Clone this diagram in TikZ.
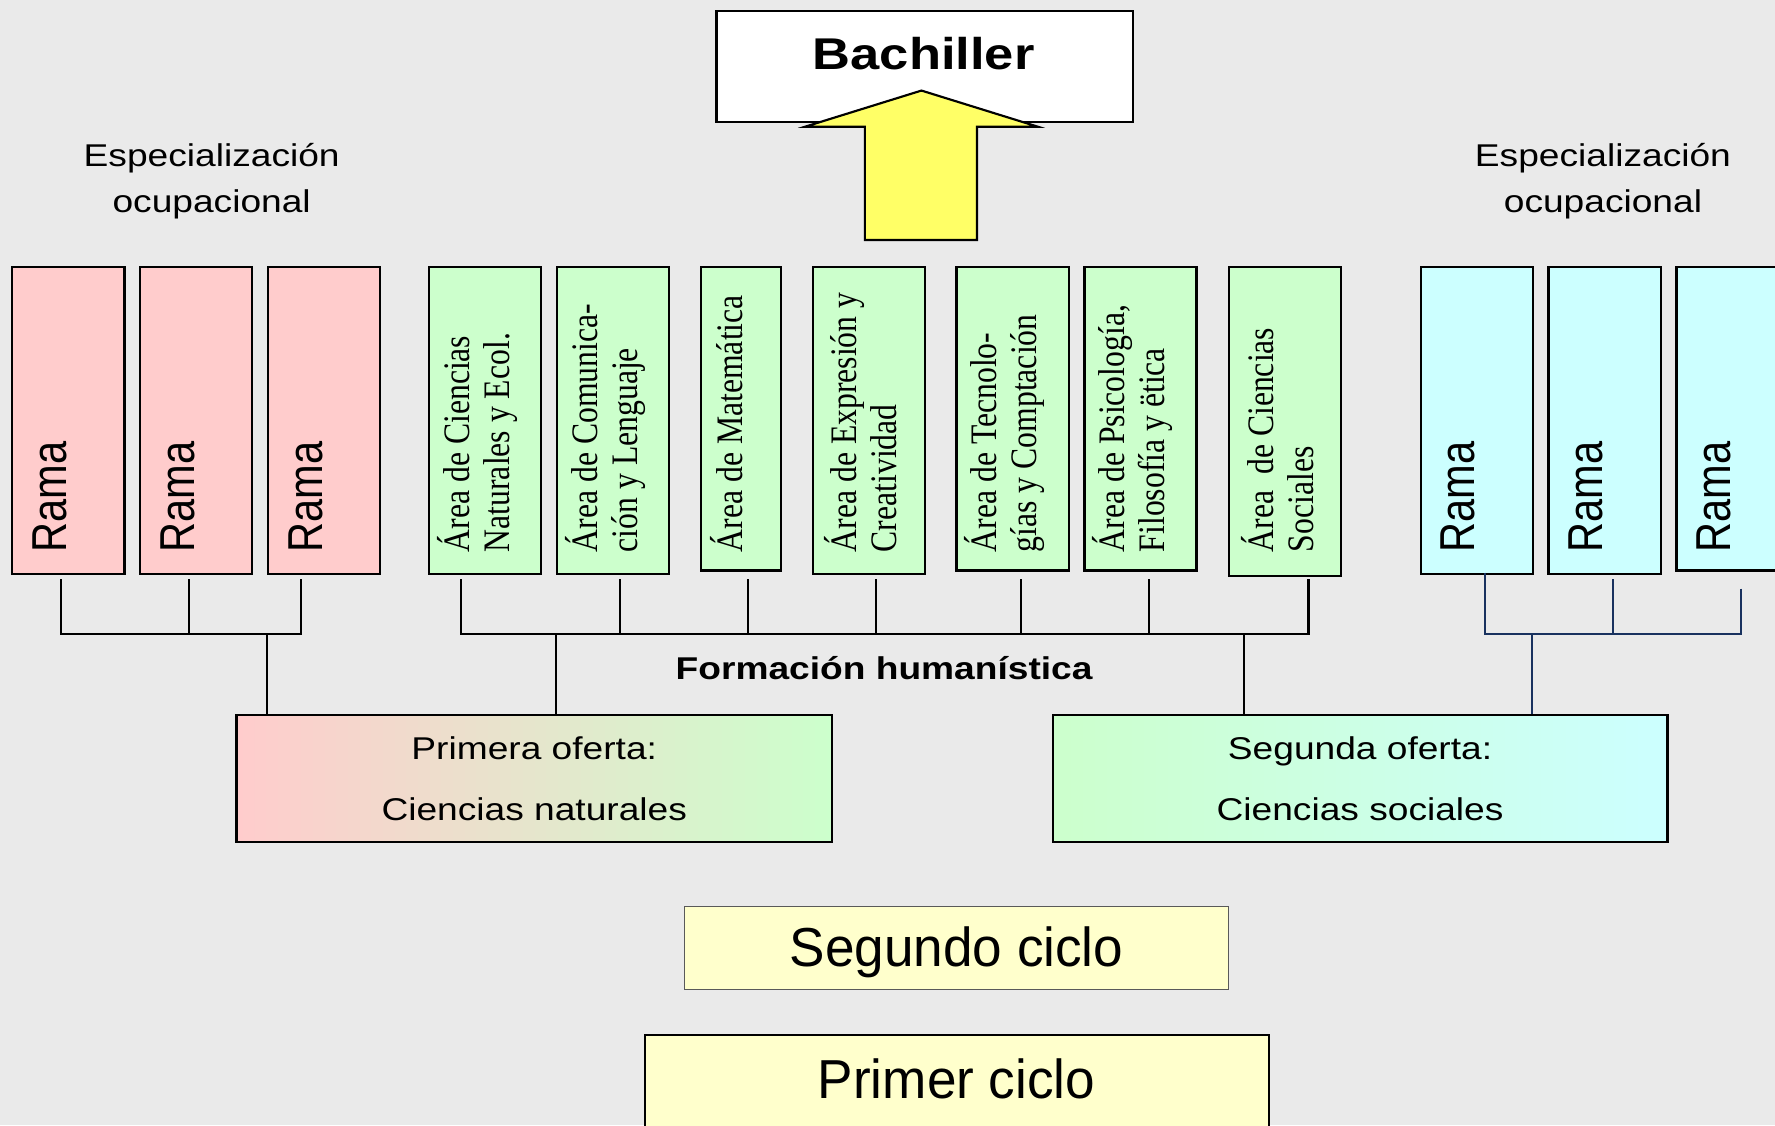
\documentclass[tikz,border=0pt]{standalone}
\usepackage{fontspec}
\setmainfont{Liberation Sans}
\newfontfamily\areafont{Liberation Serif}
\newfontfamily\ciclofont[FakeStretch=0.82]{Liberation Sans}
\usetikzlibrary{positioning,calc}
\definecolor{bgcolor}{RGB}{234,234,234}
\definecolor{ramacolor}{RGB}{255,204,204}
\definecolor{areacolor}{RGB}{204,255,204}
\definecolor{socialcolor}{RGB}{204,255,255}
\definecolor{ciclocolor}{RGB}{255,255,204}
\definecolor{arrowcolor}{RGB}{255,255,102}
\definecolor{linkblue}{RGB}{25,50,95}
\tikzset{
  plainbox/.style={draw=black, line width=1.9pt, anchor=north west, inner sep=0pt},
  ramabox/.style={plainbox, fill=ramacolor, minimum width=99pt, minimum height=271pt},
  socialbox/.style={plainbox, fill=socialcolor, minimum width=99pt},
  areabox/.style={plainbox, fill=areacolor},
  cicloA/.style={plainbox, draw=black!65, line width=0.9pt, fill=ciclocolor},
  cicloB/.style={plainbox, fill=ciclocolor},
  ramatxt/.style={font=\fontsize{36.7}{40}\selectfont, xscale=1.18, rotate=90, anchor=west, inner sep=0pt},
  areatxt/.style={font=\areafont\fontsize{28}{30}\selectfont, align=left, xscale=1.18, rotate=90, anchor=west, inner sep=0pt},
  headtxt/.style={font=\fontsize{27.8}{40}\selectfont, align=center, xscale=1.18},
  offertxt/.style={font=\fontsize{27.8}{54}\selectfont, align=center, xscale=1.18},
  boldtxt/.style={font=\bfseries\fontsize{27.8}{32}\selectfont, xscale=1.18},
  titletxt/.style={font=\bfseries\fontsize{39.3}{44}\selectfont, xscale=1.18},
  ciclotxt/.style={font=\ciclofont\fontsize{48.5}{54}\selectfont, xscale=1.18},
  link/.style={draw=black, line width=1.9pt},
  bluelink/.style={draw=linkblue, line width=1.9pt},
  bigarrow/.style={draw=black, fill=arrowcolor, line width=1.9pt, line join=miter}
}

\begin{document}
\begin{tikzpicture}[x=1pt,y=-1pt]
  % canvas
  \useasboundingbox (0,0) rectangle (1568,994);
  \clip (0,0) rectangle (1568,994);
  \fill[bgcolor] (0,0) rectangle (1568,994);

  % draw bachiller box and arrow
  \node[plainbox, fill=white, minimum width=368pt, minimum height=98pt] (bachiller) at (632,9) {};
  \node[titletxt] (bachtxt) at (816,47) {Bachiller};
  \draw[bigarrow] (764,212) -- (764,112) -- (711,112) -- (814,80) -- (917,112) -- (863,112) -- (863,212) -- cycle;

  \node[headtxt] (espL) at (187,160) {Especialización\\ocupacional};
  \node[headtxt] (espR) at (1416,160) {Especialización\\ocupacional};

  % draw left branches
  \foreach \n/\xx in {1/10,2/123,3/236}{
    \node[ramabox] (ramaL\n) at (\xx,235) {};
    \node[ramatxt] at (\xx+34,488) {Rama};
  }

  % draw areas
  \foreach \n/\xx/\ww/\hh/\dx/\txt in {
      1/378/99/271/-6/{Área de Ciencias\\Naturales y Ecol.},
      2/491/99/271/-6/{Área de Comunica-\\ción y Lenguaje},
      3/618/71/268/-12/{Área de Matemática},
      4/717/99/271/-6/{Área de Expresión y\\Creatividad},
      5/844/99/268/-6/{Área de Tecnolo-\\gías y Comptación},
      6/957/99/268/-6/{Área de Psicología,\\Filosofía y ëtica},
      7/1085/99/273/-6/{Área \ de Ciencias\\Sociales}}{
    \node[areabox, minimum width=\ww pt, minimum height=\hh pt] (area\n) at (\xx,235) {};
    \node[areatxt] at (\xx+\ww/2+\dx,488) {\txt};
  }

  % draw right branches
  \foreach \n/\xx/\hh in {1/1254/271,2/1367/271,3/1480/268}{
    \node[socialbox, minimum height=\hh pt] (ramaR\n) at (\xx,235) {};
    \node[ramatxt] at (\xx+34,488) {Rama};
  }

  % draw offers
  \node[plainbox, left color=ramacolor, right color=areacolor, minimum width=526pt, minimum height=112pt] (primera) at (208,631) {};
  \node[offertxt] at (primera.center) {Primera oferta:\\Ciencias naturales};
  \node[plainbox, left color=areacolor, right color=socialcolor, minimum width=543pt, minimum height=112pt] (segunda) at (929,631) {};
  \node[offertxt] at (segunda.center) {Segunda oferta:\\Ciencias sociales};

  \node[boldtxt] (formacion) at (781,590) {Formación humanística};

  % draw links
  \coordinate (jL) at (236,560);
  \coordinate (jA) at (491,560);
  \coordinate (jB) at (1099,560);
  \coordinate (jR) at (1353,560);
  \foreach \nd/\dx/\dy in {ramaL1/-6.5/-4, ramaL2/-6.5/-4, ramaL3/-20.5/-4}
    \draw[link] ([xshift=\dx pt,yshift=\dy pt]\nd.south) |- (jL);
  \foreach \nd/\dx/\dy in {area1/-21.5/-4, area2/6.5/-4, area3/6.5/-7, area4/6.5/-4, area5/7.5/-7, area6/7.5/-7, area7/20.5/-2}
    \draw[link] ([xshift=\dx pt,yshift=\dy pt]\nd.south) |- (jA);
  \foreach \nd/\dx/\dy in {ramaR1/7.5/2, ramaR2/7.5/-4, ramaR3/7.5/-15}
    \draw[bluelink] ([xshift=\dx pt,yshift=\dy pt]\nd.south) |- (jR);
  \draw[link] (jL) -- (jL |- primera.north);
  \draw[link] (jA) -- (jA |- primera.north);
  \draw[link] (jB) -- (jB |- segunda.north);
  \draw[bluelink] (jR) -- (jR |- segunda.north);

  % draw cycles
  \node[cicloA, minimum width=481pt, minimum height=74pt] (segundo) at (604,800) {};
  \node[ciclotxt] at ([yshift=-4pt]segundo.center) {Segundo ciclo};
  \node[cicloB, minimum width=551pt, minimum height=100pt] (primer) at (569,913) {};
  \node[ciclotxt] at (845,953) {Primer ciclo};
\end{tikzpicture}
\end{document}
